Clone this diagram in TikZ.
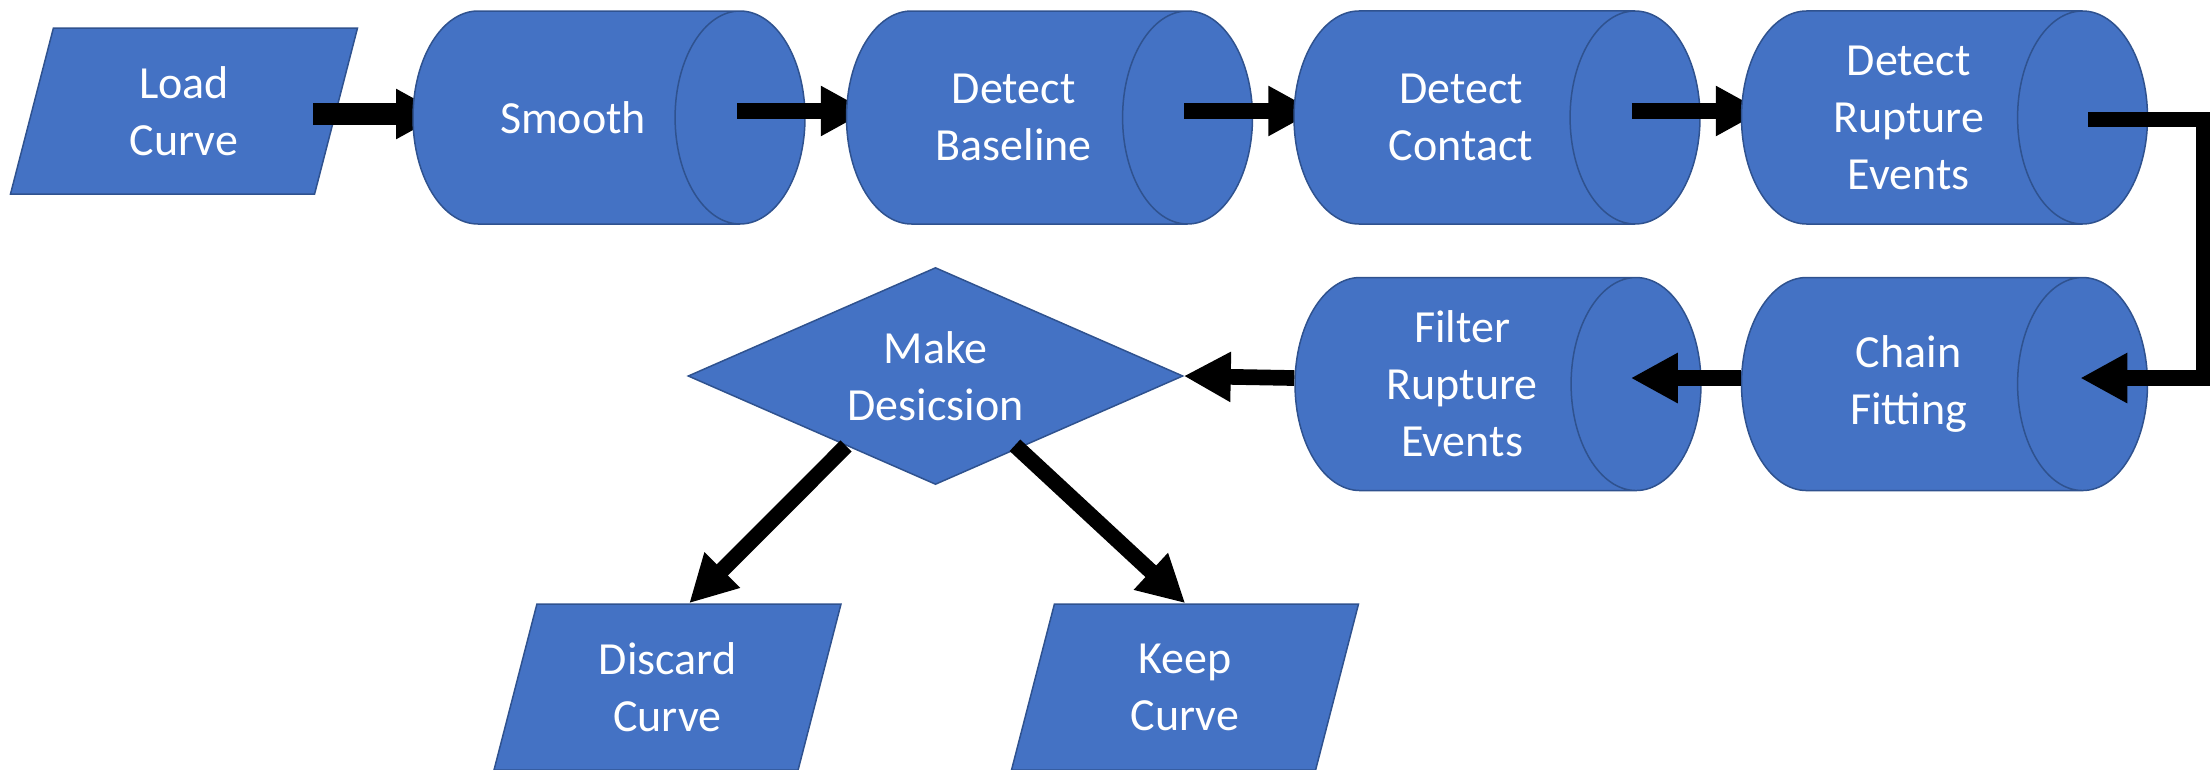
\documentclass[tikz,border=0pt]{standalone}
\usepackage{fontspec}
\setmainfont{Carlito}
\usetikzlibrary{positioning,shapes.geometric,arrows.meta,calc}
\definecolor{boxblue}{HTML}{4472C4}
\definecolor{edgeblue}{HTML}{2F528F}
\newcommand{\cantext}[1]{\hspace*{40pt}\parbox[c][150pt][c]{200pt}{\centering #1}}
\newcommand{\iotext}[1]{\parbox[c][166pt][c]{200pt}{\centering #1}}

\begin{document}
\begin{tikzpicture}[x=1pt,y=-1pt,
  block/.style={text=white,font=\fontsize{46}{57}\selectfont,align=center,
    fill=boxblue,draw=edgeblue,line width=1.5pt,inner sep=0pt},
  can/.style={block,cylinder,inner ysep=31.5pt,minimum width=213pt,minimum height=406pt,aspect=0.61},
  io/.style={block,trapezium,trapezium left angle=75.5,trapezium right angle=104.5,
    trapezium stretches body,minimum height=166pt,minimum width=347pt},
  choice/.style={block,diamond,minimum width=495pt,minimum height=217pt,aspect=2.28},
  flow/.style={line width=15.7pt,-{Triangle[length=47pt,width=47pt]}}]
\useasboundingbox (0,0) rectangle (2210,769);
\node [io] (lc) at (184,111) {\iotext{Load\\Curve}};
\coordinate (sm-in) at (443,114);
\draw [flow,line width=21.7pt] ([xshift=129pt,yshift=-3pt]lc.center) -- (sm-in);
\node [can,minimum height=392pt,anchor=shape center] (sm) at (609,117.5) {\cantext{Smooth}};
\coordinate (db-in) at ([xshift=62pt,yshift=6.5pt]sm.east);
\draw [flow] ([xshift=-69pt,yshift=6.5pt]sm.east) -- (db-in);
\node [can,right=40pt of sm] (db) {\cantext{Detect\\Baseline}};
\coordinate (dc-in) at ([xshift=62pt,yshift=6.5pt]db.east);
\draw [flow] ([xshift=-69pt,yshift=6.5pt]db.east) -- (dc-in);
\node [can,right=40pt of db] (dc) {\cantext{Detect\\Contact}};
\coordinate (dr-in) at ([xshift=62pt,yshift=6.5pt]dc.east);
\draw [flow] ([xshift=-69pt,yshift=6.5pt]dc.east) -- (dr-in);
\node [can,right=40pt of dc] (dr) {\cantext{Detect\\Rupture\\Events}};
\node [can,below=52pt of dr] (cf) {\cantext{Chain\\Fitting}};
\node [can,left=39pt of cf] (fr) {\cantext{Filter\\Rupture\\Events}};
\node [choice] (md) at (935.5,376) {Make\\Desicsion};
\node [io] (dcv) at (667.5,687) {\iotext{Discard\\Curve}};
\node [io] (kcv) at (1185,687) {\iotext{Keep\\Curve}};
\draw [flow] ([xshift=-60pt,yshift=-2pt]dr.east) -- ++(116,0) |- ([xshift=-68pt,yshift=6pt]cf.east);
\draw [flow] ([yshift=6pt]cf.west) -- ([xshift=-71pt,yshift=6pt]fr.east);
\draw [flow] ([yshift=6pt]fr.west) -- (md.east);
\draw [flow] ($(md.south)!0.36!(md.west)$) -- (dcv.top side);
\draw [flow] ($(md.south)!0.32!(md.east)+(0,-5)$) -- ($(kcv.top left corner)!0.43!(kcv.top right corner)$);
\end{tikzpicture}
\end{document}
